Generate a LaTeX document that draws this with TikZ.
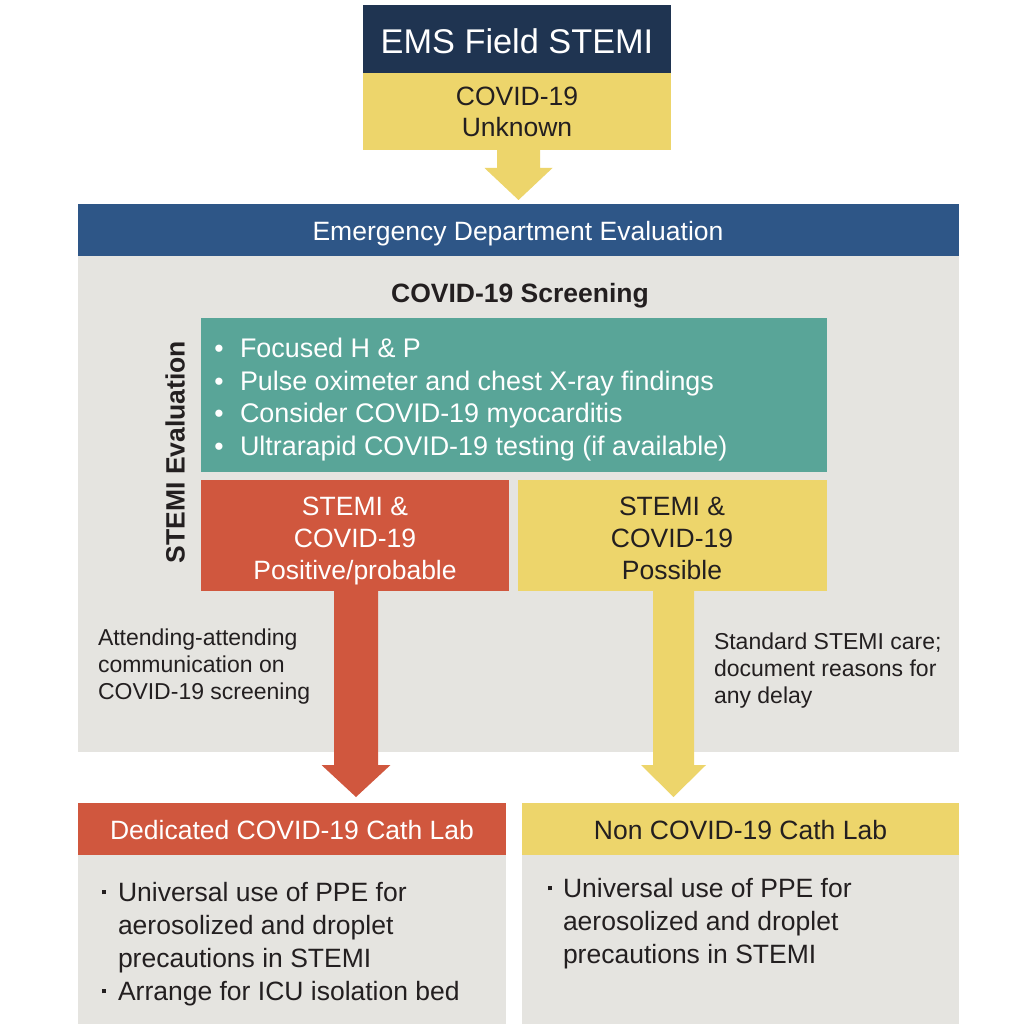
\documentclass[tikz,border=0pt]{standalone}
\usepackage{fontspec}
\setmainfont{Liberation Sans}
\usetikzlibrary{calc}
\definecolor{navyc}{HTML}{1F3451}
\definecolor{yelc}{HTML}{EDD56B}
\definecolor{bluec}{HTML}{2E5687}
\definecolor{grayc}{HTML}{E5E4E0}
\definecolor{tealc}{HTML}{59A598}
\definecolor{redc}{HTML}{D0573E}
\definecolor{inkc}{HTML}{231F20}
\newcommand\blkarrow[6]{%
  \fill[#3] ($(#1)+(-#4,0)$) -- ($(#1)+(#4,0)$) -- ($(#2)+(#4,-#6)$) -- ($(#2)+(#5,-#6)$) -- (#2) -- ($(#2)+(-#5,-#6)$) -- ($(#2)+(-#4,-#6)$) -- cycle;}
\newcommand\sqbul{\rule[7.2pt]{4.6pt}{4.6pt}}
\begin{document}
\begin{tikzpicture}[x=1pt,y=-1pt,
  box/.style={rectangle, inner sep=0pt, outer sep=0pt, anchor=north west, draw=none},
  txt/.style={inner sep=0pt, outer sep=0pt, anchor=base, text=inkc, font=\fontsize{26.5}{32}\selectfont},
  wtxt/.style={txt, text=white},
  ltxt/.style={txt, anchor=base west},
  wltxt/.style={wtxt, anchor=base west},
  note/.style={ltxt, font=\fontsize{23}{27}\selectfont},
]
\useasboundingbox (0,0) rectangle (1012,1024);
\fill[white] (0,0) rectangle (1012,1024);

% boxes
\node[box, fill=navyc, minimum width=308pt, minimum height=68pt] (ems) at (363,5) {};
\node[box, fill=yelc, minimum width=308pt, minimum height=77pt] (unk) at (363,73) {};
\node[box, fill=bluec, minimum width=881pt, minimum height=52pt] (ed) at (78,204) {};
\node[box, fill=grayc, minimum width=881pt, minimum height=496pt] (panel) at (78,256) {};
\node[box, fill=tealc, minimum width=626pt, minimum height=154pt] (teal) at (201,318) {};
\node[box, fill=redc, minimum width=308pt, minimum height=111pt] (rbox) at (201,480) {};
\node[box, fill=yelc, minimum width=309pt, minimum height=111pt] (ybox) at (518,480) {};
\node[box, fill=redc, minimum width=428pt, minimum height=52pt] (dhead) at (78,803) {};
\node[box, fill=grayc, minimum width=428pt, minimum height=169pt] (dbody) at (78,855) {};
\node[box, fill=yelc, minimum width=437pt, minimum height=52pt] (nhead) at (522,803) {};
\node[box, fill=grayc, minimum width=437pt, minimum height=169pt] (nbody) at (522,855) {};

% arrows
\coordinate (ttip) at (518.5,200);
\coordinate (tstart) at (ttip |- unk.south);
\blkarrow{tstart}{ttip}{yelc}{21.5}{34}{32}
\coordinate (rtip) at (356,797);
\coordinate (rstart) at (rtip |- rbox.south);
\blkarrow{rstart}{rtip}{redc}{22}{34.5}{32}
\coordinate (ytip) at (673.5,797);
\coordinate (ystart) at (ytip |- ybox.south);
\blkarrow{ystart}{ytip}{yelc}{20.5}{32.5}{32}

% texts
\node[wtxt, font=\fontsize{34.3}{40}\selectfont] (t1) at (517,54) {EMS Field STEMI};
\node[txt] (t2) at (517,105.5) {COVID-19};
\node[txt] (t3) at (517,136.5) {Unknown};
\node[wtxt] (t4) at (518,240.5) {Emergency Department Evaluation};
\node[txt, font=\bfseries\fontsize{26.5}{32}\selectfont] (t5) at (520,302.5) {COVID-19 Screening};
\node[txt, font=\bfseries\fontsize{26.5}{32}\selectfont, rotate=90] (t6) at (184.5,452) {STEMI Evaluation};

\foreach \yy/\tt [count=\i] in {357/{Focused H \& P},390/{Pulse oximeter and chest X-ray findings},422/{Consider COVID-19 myocarditis},455/{Ultrarapid COVID-19 testing (if available)}}{
  \node[wtxt] (tb\i) at (219,\yy) {•};
  \node[wltxt, font=\fontsize{26.9}{32}\selectfont] (tl\i) at (240,\yy) {\tt};
}

\node[wtxt] (r1) at (355,515) {STEMI \&};
\node[wtxt] (r2) at (355,547) {COVID-19};
\node[wtxt] (r3) at (355,579) {Positive/probable};
\node[txt] (y1) at (672,515) {STEMI \&};
\node[txt] (y2) at (672,547) {COVID-19};
\node[txt] (y3) at (672,579) {Possible};

\node[note] (a1) at (98,645) {Attending-attending};
\node[note] (a2) at (98,672) {communication on};
\node[note] (a3) at (98,699) {COVID-19 screening};
\node[note] (b1) at (714,649) {Standard STEMI care;};
\node[note] (b2) at (714,676) {document reasons for};
\node[note] (b3) at (714,703) {any delay};

\node[wtxt] (dh) at (292,839.5) {Dedicated COVID-19 Cath Lab};
\node[txt] (nh) at (740.5,839.5) {Non COVID-19 Cath Lab};

\node[txt] (db1) at (104,901.5) {\sqbul};
\node[ltxt] (dl1) at (118,901.5) {Universal use of PPE for};
\node[ltxt] (dl2) at (118,934.5) {aerosolized and droplet};
\node[ltxt] (dl3) at (118,967.5) {precautions in STEMI};
\node[txt] (db2) at (104,1000.5) {\sqbul};
\node[ltxt] (dl4) at (118,1000.5) {Arrange for ICU isolation bed};

\node[txt] (nb1) at (550,897.5) {\sqbul};
\node[ltxt] (nl1) at (563,897.5) {Universal use of PPE for};
\node[ltxt] (nl2) at (563,930.5) {aerosolized and droplet};
\node[ltxt] (nl3) at (563,963.5) {precautions in STEMI};
\end{tikzpicture}
\end{document}
